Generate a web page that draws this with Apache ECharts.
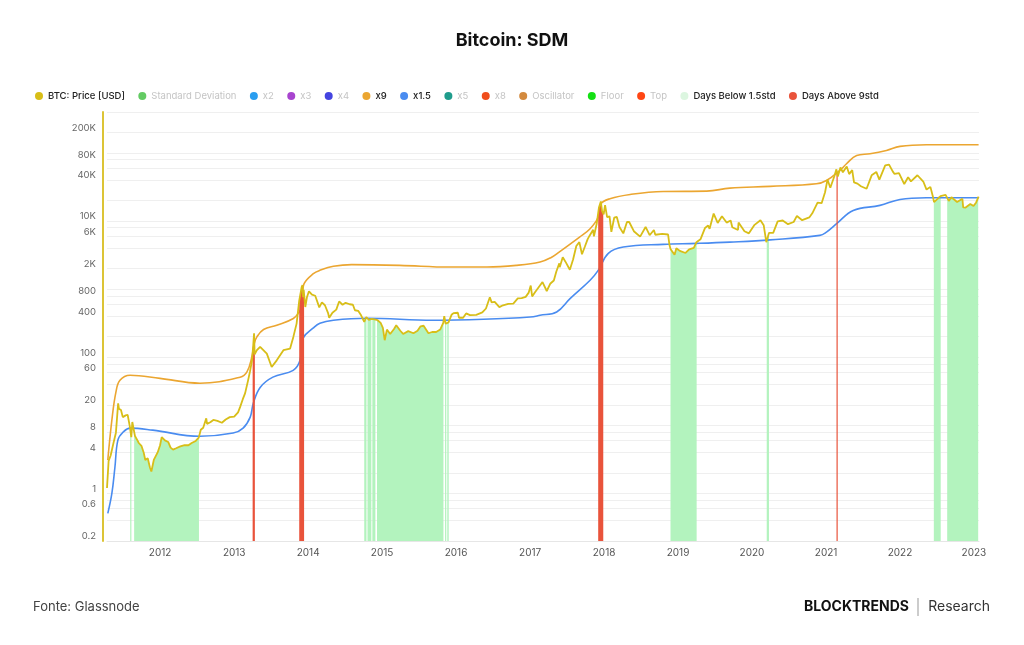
<!DOCTYPE html>
<html>
<head>
<meta charset="utf-8">
<script src="https://cdn.jsdelivr.net/npm/echarts@6/dist/echarts.min.js"></script>
<style>
  html, body { margin: 0; padding: 0; background: #fff; }
  #chart { width: 1024px; height: 645px; }
</style>
</head>
<body>
<div id="chart"></div>
<script>
// BTC price (USD)
const priceDates = [
  '2011-04-14','2011-04-22','2011-05-02','2011-05-16','2011-05-28','2011-06-08','2011-06-12','2011-06-22',
  '2011-07-01','2011-07-15','2011-07-25','2011-08-05','2011-08-12','2011-08-17','2011-08-30','2011-09-10',
  '2011-09-18','2011-10-01','2011-10-12','2011-10-20','2011-11-01','2011-11-12','2011-11-19','2011-12-01',
  '2011-12-20','2012-01-01','2012-01-09','2012-01-25','2012-02-10','2012-02-22','2012-03-05','2012-03-20',
  '2012-04-10','2012-05-01','2012-05-20','2012-06-05','2012-06-25','2012-07-10','2012-07-20','2012-08-01',
  '2012-08-16','2012-08-20','2012-09-05','2012-09-20','2012-10-10','2012-11-01','2012-11-20','2012-12-10',
  '2013-01-01','2013-01-20','2013-01-30','2013-02-12','2013-02-24','2013-03-10','2013-03-20','2013-03-30',
  '2013-04-05','2013-04-09','2013-04-12','2013-04-23','2013-05-09','2013-06-11','2013-07-05','2013-07-30',
  '2013-09-01','2013-10-04','2013-10-20','2013-11-05','2013-11-18','2013-11-30','2013-12-04','2013-12-07',
  '2013-12-10','2013-12-18','2013-12-26','2014-01-05','2014-01-20','2014-02-05','2014-02-25','2014-03-10',
  '2014-03-25','2014-04-10','2014-04-15','2014-05-01','2014-05-20','2014-06-03','2014-06-20','2014-07-05',
  '2014-07-25','2014-08-10','2014-08-20','2014-09-05','2014-09-20','2014-10-05','2014-10-15','2014-10-28',
  '2014-11-10','2014-11-25','2014-12-10','2014-12-25','2015-01-05','2015-01-14','2015-01-25','2015-02-10',
  '2015-03-01','2015-03-12','2015-04-01','2015-04-15','2015-05-10','2015-06-05','2015-06-25','2015-07-10',
  '2015-07-25','2015-08-18','2015-09-05','2015-09-25','2015-10-15','2015-10-30','2015-11-04','2015-11-11',
  '2015-11-25','2015-12-10','2015-12-20','2016-01-10','2016-01-16','2016-02-05','2016-02-20','2016-03-10',
  '2016-04-10','2016-05-10','2016-05-28','2016-06-16','2016-06-25','2016-07-10','2016-08-02','2016-08-20',
  '2016-09-15','2016-10-10','2016-11-01','2016-11-20','2016-12-10','2016-12-25','2017-01-04','2017-01-11',
  '2017-01-25','2017-02-23','2017-03-03','2017-03-24','2017-04-10','2017-04-28','2017-05-10','2017-05-25',
  '2017-05-27','2017-06-11','2017-06-27','2017-07-16','2017-08-01','2017-08-17','2017-09-01','2017-09-14',
  '2017-09-28','2017-10-12','2017-10-20','2017-11-08','2017-11-12','2017-11-26','2017-12-07','2017-12-16',
  '2017-12-22','2017-12-30','2018-01-06','2018-01-16','2018-01-28','2018-02-06','2018-02-20','2018-03-05',
  '2018-03-18','2018-04-06','2018-04-24','2018-05-05','2018-05-28','2018-06-28','2018-07-25','2018-08-14',
  '2018-09-04','2018-09-11','2018-10-15','2018-11-13','2018-11-20','2018-11-25','2018-12-15','2018-12-24',
  '2019-01-10','2019-02-07','2019-02-25','2019-03-20','2019-04-02','2019-04-22','2019-05-14','2019-05-30',
  '2019-06-06','2019-06-26','2019-07-16','2019-08-06','2019-08-29','2019-09-18','2019-09-26','2019-10-24',
  '2019-10-27','2019-11-25','2019-12-17','2020-01-14','2020-02-12','2020-02-28','2020-03-12','2020-03-16',
  '2020-03-25','2020-04-15','2020-05-07','2020-06-01','2020-06-27','2020-07-25','2020-08-10','2020-09-05',
  '2020-10-10','2020-10-25','2020-11-20','2020-12-10','2020-12-27','2021-01-08','2021-01-22','2021-02-10',
  '2021-02-21','2021-02-28','2021-03-13','2021-03-25','2021-04-13','2021-04-25','2021-05-10','2021-05-19',
  '2021-06-05','2021-06-22','2021-07-20','2021-08-14','2021-09-06','2021-09-21','2021-10-20','2021-11-08',
  '2021-11-26','2021-12-05','2021-12-27','2022-01-22','2022-02-10','2022-02-24','2022-03-28','2022-04-26',
  '2022-05-12','2022-05-31','2022-06-13','2022-06-18','2022-07-08','2022-07-20','2022-08-14','2022-08-30',
  '2022-09-12','2022-10-10','2022-11-05','2022-11-09','2022-11-21','2022-12-14','2022-12-30','2023-01-12',
  '2023-01-24'
];
const priceValues = [
  1.2, 3.0, 3.6, 5.5, 7.8, 21, 17.5, 16.8,
  13.2, 14, 14.2, 9.5, 6.7, 11.2, 7, 6.1,
  5.5, 5.0, 4.0, 3.1, 3.3, 2.4, 2.1, 3.1,
  4.0, 5.1, 6.7, 6.0, 5.7, 4.7, 4.4, 4.6,
  4.9, 5.1, 5.1, 5.5, 5.9, 6.6, 8.6, 9.2,
  12.7, 10.5, 11.1, 12.0, 11.6, 10.9, 12.2, 13.2,
  13.4, 15.5, 18.5, 24, 29.7, 45, 62, 90,
  150, 225, 110, 127, 142, 113, 72, 90,
  127, 134, 199, 312, 680, 1074, 1150, 760,
  980, 547, 760, 930, 830, 800, 540, 640,
  580, 440, 380, 450, 500, 660, 590, 630,
  600, 590, 490, 480, 410, 330, 390, 355,
  365, 360, 350, 320, 270, 178, 255, 220,
  260, 295, 245, 220, 242, 225, 245, 285,
  290, 225, 235, 235, 255, 320, 400, 310,
  325, 420, 445, 450, 380, 380, 440, 415,
  420, 455, 520, 760, 640, 650, 545, 580,
  610, 615, 730, 740, 770, 890, 1130, 780,
  900, 1180, 1270, 940, 1200, 1340, 1800, 2400,
  2100, 2950, 2450, 1930, 2720, 4300, 4900, 3250,
  4200, 5440, 6000, 7450, 5950, 9300, 16000, 19400,
  14000, 12600, 17100, 11400, 11700, 6950, 11200, 11500,
  8200, 6600, 9700, 9700, 7100, 5900, 8200, 6200,
  7400, 6300, 6500, 6350, 4450, 3900, 3200, 4000,
  3650, 3400, 3850, 4050, 4900, 5400, 7900, 8600,
  7700, 12900, 9400, 11800, 9500, 10200, 8100, 7400,
  9500, 7100, 6600, 8800, 10300, 8700, 4900, 5000,
  6700, 6700, 9900, 10200, 9000, 9700, 11900, 10300,
  11300, 13000, 18700, 18300, 26500, 40700, 30800, 44800,
  57500, 45200, 61200, 52000, 63500, 49000, 56000, 37000,
  35500, 32500, 29800, 47000, 52700, 40600, 65900, 67500,
  53700, 49300, 50700, 35000, 44000, 38300, 47100, 38100,
  29000, 31800, 22500, 19000, 21600, 23200, 24300, 19800,
  22400, 19100, 21300, 15900, 15800, 17800, 16600, 18800,
  22900
];

// x9 standard deviation band
const x9Dates = [
  '2011-04-18','2011-05-08','2011-05-28','2011-06-17','2011-08-06','2012-01-01','2012-07-16','2013-01-30',
  '2013-03-05','2013-03-29','2013-04-10','2013-04-23','2013-05-26','2013-07-30','2013-10-20','2013-11-18',
  '2013-11-28','2013-12-05','2013-12-12','2014-01-27','2014-02-28','2014-05-06','2014-08-04','2015-03-29',
  '2015-12-01','2016-06-02','2016-10-27','2017-02-19','2017-04-13','2017-05-24','2017-09-02','2017-10-24',
  '2017-12-03','2017-12-17','2018-01-30','2018-05-10','2018-10-20','2019-05-23','2019-09-14','2020-03-31',
  '2020-11-14','2021-01-03','2021-03-10','2021-04-12','2021-06-01','2021-08-06','2021-10-26','2022-01-01',
  '2022-05-12','2023-01-24'
];
const x9Values = [
  3.1, 11.9, 30.7, 46, 54.5, 49, 41.6, 51,
  61, 101, 159, 199, 255, 295, 370, 463,
  520, 900, 1206, 1690, 1888, 2164, 2292, 2238,
  2114, 2114, 2238, 2500, 2900, 3508, 5822, 7727,
  11400, 18000, 21300, 24600, 27200, 27500, 30500, 32300,
  35300, 39500, 55400, 69500, 91900, 97300, 109000, 125000,
  132000, 132000
];

// x1.5 standard deviation band
const x15Dates = [
  '2011-04-18','2011-05-08','2011-05-23','2011-06-07','2011-07-02','2011-08-06','2011-11-26','2012-07-16',
  '2012-12-27','2013-02-14','2013-03-21','2013-04-05','2013-05-09','2013-07-11','2013-10-19','2013-11-22',
  '2013-12-07','2014-01-25','2014-02-28','2014-05-06','2014-10-17','2015-09-10','2016-05-15','2017-01-01',
  '2017-02-19','2017-05-12','2017-07-17','2017-10-24','2017-12-03','2018-01-22','2018-04-06','2018-10-20',
  '2019-04-03','2019-09-14','2020-03-31','2020-12-01','2021-01-03','2021-02-22','2021-05-15','2021-09-24',
  '2022-01-01','2022-05-12','2023-01-24'
];
const x15Values = [
  0.51, 1.0, 2.4, 6.1, 7.9, 9.1, 8.5, 6.9,
  7.7, 9.1, 13.2, 21, 36, 51, 64, 90,
  190, 267, 316, 349, 373, 349, 361, 390,
  413, 463, 726, 1349, 1888, 3357, 4150, 4550,
  4700, 4912, 5300, 6165, 6900, 9140, 14300, 17000,
  20800, 22000, 22000
];

// days below 1.5std / above 9std (date ranges)
const belowStart = ['2011-08-08','2011-08-26','2014-10-05','2014-10-21','2014-11-14','2014-12-07','2015-11-08','2015-11-19','2018-11-25','2020-03-14','2022-06-17','2022-08-22'];
const belowEnd   = ['2011-08-11','2012-07-11','2014-10-16','2014-11-09','2014-11-29','2015-10-31','2015-11-14','2015-11-26','2019-04-03','2020-03-25','2022-07-21','2023-01-22'];
const aboveStart = ['2013-04-02','2013-11-18','2017-12-03','2021-02-23'];
const aboveEnd   = ['2013-04-13','2013-12-12','2017-12-28','2021-02-26'];

// axis ticks
const yGridValues = [0.2, 0.4, 0.6, 0.8, 1, 2, 4, 6, 8, 10, 20, 40, 60, 80, 100, 200, 400, 600, 800,
  1000, 2000, 4000, 6000, 8000, 10000, 20000, 40000, 60000, 80000, 100000, 200000, 400000];
const yLabelValues = [0.2, 0.6, 1, 4, 8, 20, 60, 100, 400, 800, 2000, 6000, 10000, 40000, 80000, 200000];
const xYears = [2012, 2013, 2014, 2015, 2016, 2017, 2018, 2019, 2020, 2021, 2022, 2023];

const ts = d => Date.parse(d + 'T00:00:00Z');
const priceTs = priceDates.map(ts);
const pairs = (dates, vals) => dates.map((d, i) => [ts(d), vals[i]]);

// fill from the x axis up to the price line between two dates
function rangeFill(params, api) {
  const s = api.value(0), e = api.value(1);
  const cs = params.coordSys;
  const bottom = cs.y + cs.height;
  let xa = api.coord([s, 1])[0], xb = api.coord([e, 1])[0];
  if (xb - xa < 1.2) { const m = (xa + xb) / 2; xa = m - 0.6; xb = m + 0.6; }
  const pts = priceTs.map((t, i) => api.coord([t, priceValues[i]]));
  const top = [];
  for (let k = 0; k < pts.length - 1; k++) {
    const [x1, y1] = pts[k], [x2, y2] = pts[k + 1];
    const lo = Math.max(x1, xa), hi = Math.min(x2, xb);
    if (hi < lo) continue;
    const yAt = x => (x2 === x1 ? y1 : y1 + (y2 - y1) * (x - x1) / (x2 - x1));
    if (!top.length) top.push([lo, yAt(lo)]);
    top.push([hi, yAt(hi)]);
  }
  if (!top.length) return null;
  top.push([top[top.length - 1][0], bottom], [top[0][0], bottom]);
  return { type: 'polygon', shape: { points: top }, style: { fill: api.visual('color') } };
}

const legendGrey = { color: '#c4c4c4', fontWeight: 400 };
const dummy = (name, color) => ({ name, type: 'line', data: [], itemStyle: { color }, lineStyle: { color } });

const chart = echarts.init(document.getElementById('chart'));
chart.setOption({
  animation: false,
  backgroundColor: '#fff',
  title: {
    text: 'Bitcoin: SDM', left: 'center', top: 27,
    textStyle: { fontSize: 18, fontWeight: 'bold', color: '#111', fontFamily: 'Inter' }
  },
  legend: {
    left: 30, top: 86, icon: 'circle', itemWidth: 8, itemHeight: 8, itemGap: 13.4,
    textStyle: { fontSize: 9.5, color: '#222', fontWeight: 500, fontFamily: 'Inter' },
    data: [
      { name: 'BTC: Price [USD]' },
      { name: 'Standard Deviation', textStyle: legendGrey },
      { name: 'x2', textStyle: legendGrey },
      { name: 'x3', textStyle: legendGrey },
      { name: 'x4', textStyle: legendGrey },
      { name: 'x9' },
      { name: 'x1.5' },
      { name: 'x5', textStyle: legendGrey },
      { name: 'x8', textStyle: legendGrey },
      { name: 'Oscillator', textStyle: legendGrey },
      { name: 'Floor', textStyle: legendGrey },
      { name: 'Top', textStyle: legendGrey },
      { name: 'Days Below 1.5std', itemStyle: { color: '#dcf6e0' } },
      { name: 'Days Above 9std' }
    ]
  },
  grid: { left: 107, right: 45, top: 112, bottom: 104 },
  xAxis: {
    type: 'value',
    min: ts('2011-04-14'), max: ts('2023-01-26'),
    axisLine: { lineStyle: { color: '#e6e6e6' } },
    axisTick: { show: false },
    splitLine: { show: false },
    axisLabel: {
      customValues: xYears.map(y => Date.UTC(y, 0, 1)),
      formatter: v => String(new Date(v).getUTCFullYear()),
      color: '#555', fontSize: 10, fontFamily: 'Inter', margin: 7
    }
  },
  yAxis: {
    type: 'log', logBase: 10, min: 0.2, max: 400000, offset: 4,
    axisLine: { show: true, lineStyle: { color: '#dcc436', width: 2 } },
    axisTick: { show: false, customValues: yGridValues },
    splitLine: { show: true, lineStyle: { color: '#efefef', width: 1 } },
    axisLabel: {
      customValues: yLabelValues,
      formatter: v => (v >= 1000 ? (v / 1000) + 'K' : String(v)),
      color: '#666', fontSize: 9.5, fontFamily: 'Inter', margin: 7,
      verticalAlign: 'bottom', lineHeight: 9
    }
  },
  series: [
    {
      name: 'BTC: Price [USD]', type: 'line', data: pairs(priceDates, priceValues),
      showSymbol: false, z: 5, itemStyle: { color: '#d8be18' }, lineStyle: { color: '#d8be18', width: 1.8 }
    },
    dummy('Standard Deviation', '#63cb63'),
    dummy('x2', '#2a9ef0'),
    dummy('x3', '#a844cf'),
    dummy('x4', '#4444e0'),
    {
      name: 'x9', type: 'line', data: pairs(x9Dates, x9Values), smooth: 0.4,
      showSymbol: false, z: 3, itemStyle: { color: '#eba631' }, lineStyle: { color: '#eba631', width: 1.6 }
    },
    {
      name: 'x1.5', type: 'line', data: pairs(x15Dates, x15Values), smooth: 0.4,
      showSymbol: false, z: 3, itemStyle: { color: '#4a8cf0' }, lineStyle: { color: '#4a8cf0', width: 1.6 }
    },
    dummy('x5', '#1f9c8c'),
    dummy('x8', '#f04e1c'),
    dummy('Oscillator', '#d38a3e'),
    dummy('Floor', '#14e014'),
    dummy('Top', '#ff4614'),
    {
      name: 'Days Below 1.5std', type: 'custom', renderItem: rangeFill, z: 1,
      itemStyle: { color: '#b3f3be' },
      data: belowStart.map((s, i) => [ts(s), ts(belowEnd[i])])
    },
    {
      name: 'Days Above 9std', type: 'custom', renderItem: rangeFill, z: 4,
      itemStyle: { color: '#e9533b' },
      data: aboveStart.map((s, i) => [ts(s), ts(aboveEnd[i])])
    }
  ],
  graphic: [
    { type: 'text', x: 33, y: 607, style: { text: 'Fonte: Glassnode', fill: '#444', font: '13px Inter', verticalAlign: 'middle', textVerticalAlign: 'middle' } },
    { type: 'text', x: 909, y: 607, style: { text: 'BLOCKTRENDS', fill: '#111', font: 'bold 14px Inter', align: 'right', textAlign: 'right', verticalAlign: 'middle', textVerticalAlign: 'middle' } },
    { type: 'line', shape: { x1: 918, y1: 598, x2: 918, y2: 616 }, style: { stroke: '#999', lineWidth: 1 } },
    { type: 'text', x: 990, y: 607, style: { text: 'Research', fill: '#333', font: '14px Inter', align: 'right', textAlign: 'right', verticalAlign: 'middle', textVerticalAlign: 'middle' } }
  ]
});
</script>
</body>
</html>
